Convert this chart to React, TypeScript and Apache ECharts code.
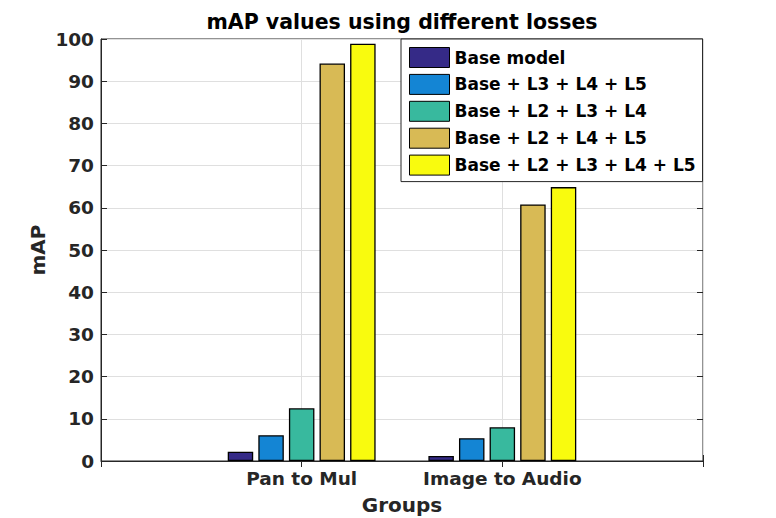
import React, { useEffect, useRef } from "react";
import * as echarts from "echarts";

const categories = ["", "Pan to Mul", "Image to Audio", ""];
const seriesNames = [
  "Base model",
  "Base + L3 + L4 + L5",
  "Base + L2 + L3 + L4",
  "Base + L2 + L4 + L5",
  "Base + L2 + L3 + L4 + L5",
];
const baseModel = [2.2, 1.2];
const l345 = [6.1, 5.4];
const l234 = [12.5, 8.0];
const l245 = [94.2, 60.8];
const l2345 = [98.9, 64.9];
const colors = ["#352a87", "#1485d4", "#38b99e", "#d8ba55", "#f9fb0e"];
const yTicks = { min: 0, max: 100, interval: 10 };

const FONT = "DejaVu Sans";

export default function App() {
  const ref = useRef<HTMLDivElement>(null);
  useEffect(() => {
    if (!ref.current) return;
    const chart = echarts.init(ref.current, undefined, { renderer: "svg" });
    const allValues = [baseModel, l345, l234, l245, l2345];
    const series = allValues.map((vals, i) => ({
      name: seriesNames[i],
      type: "bar",
      data: [null, vals[0], vals[1], null],
      barWidth: 25.5,
      barGap: "20%",
      itemStyle: { color: colors[i], borderColor: "#000", borderWidth: 1.3 },
    }));
    chart.setOption({
      animation: false,
      backgroundColor: "#fff",
      textStyle: { fontFamily: FONT },
      title: {
        text: "mAP values using different losses",
        left: 402,
        textAlign: "center",
        top: 11,
        padding: 0,
        textStyle: { fontFamily: FONT, fontSize: 20.5, fontWeight: "bold", color: "#000" },
      },
      grid: {
        left: 101,
        top: 39,
        width: 602,
        height: 422,
        outerBoundsMode: "none",
        containLabel: false,
        show: true,
        borderColor: "#262626",
        borderWidth: 1,
        backgroundColor: "transparent",
      },
      legend: {
        orient: "vertical",
        left: 401,
        top: 39,
        padding: [8, 7, 6, 8],
        itemWidth: 40,
        itemHeight: 20,
        itemGap: 5.9,
        icon: "rect",
        backgroundColor: "#fff",
        borderColor: "#262626",
        borderWidth: 1,
        itemStyle: { borderColor: "#000", borderWidth: 1 },
        textStyle: {
          fontFamily: FONT,
          fontSize: 17,
          lineHeight: 20,
          fontWeight: "bold",
          color: "#000",
        },
        data: seriesNames,
      },
      xAxis: [
        {
          type: "category",
          data: categories,
          boundaryGap: false,
          position: "bottom",
          name: "Groups",
          nameLocation: "middle",
          nameGap: 34,
          nameTextStyle: { fontFamily: FONT, fontSize: 20, fontWeight: "bold", color: "#262626" },
          axisLine: { show: true, lineStyle: { color: "#262626", width: 1 } },
          axisTick: { show: true, inside: true, length: 6, lineStyle: { color: "#262626" } },
          axisLabel: {
            fontFamily: FONT,
            fontSize: 18.5,
            fontWeight: "bold",
            color: "#262626",
            margin: 8,
            interval: 0,
          },
          splitLine: { show: true, lineStyle: { color: "#dfdfdf", width: 1 } },
        },
        {
          type: "category",
          data: categories,
          boundaryGap: false,
          position: "top",
          axisLine: { show: false },
          axisTick: { show: true, inside: true, length: 6, lineStyle: { color: "#262626" } },
          axisLabel: { show: false },
          splitLine: { show: false },
        },
      ],
      yAxis: [
        {
          type: "value",
          ...yTicks,
          name: "mAP",
          nameLocation: "middle",
          nameGap: 53,
          nameMoveOverlap: false,
          nameTextStyle: { fontFamily: FONT, fontSize: 20, fontWeight: "bold", color: "#262626" },
          axisLine: { show: true, lineStyle: { color: "#262626", width: 1 } },
          axisTick: { show: true, inside: true, length: 6, lineStyle: { color: "#262626" } },
          axisLabel: {
            fontFamily: FONT,
            fontSize: 18.5,
            fontWeight: "bold",
            color: "#262626",
            margin: 7,
          },
          splitLine: { show: true, lineStyle: { color: "#dfdfdf", width: 1 } },
        },
        {
          type: "value",
          ...yTicks,
          position: "right",
          axisLine: { show: false },
          axisTick: { show: true, inside: true, length: 6, lineStyle: { color: "#262626" } },
          axisLabel: { show: false },
          splitLine: { show: false },
        },
      ],
      series,
    });
    return () => chart.dispose();
  }, []);
  return (
    <div
      ref={ref}
      style={{ position: "fixed", left: 0, top: 0, width: 776, height: 518 }}
    />
  );
}
